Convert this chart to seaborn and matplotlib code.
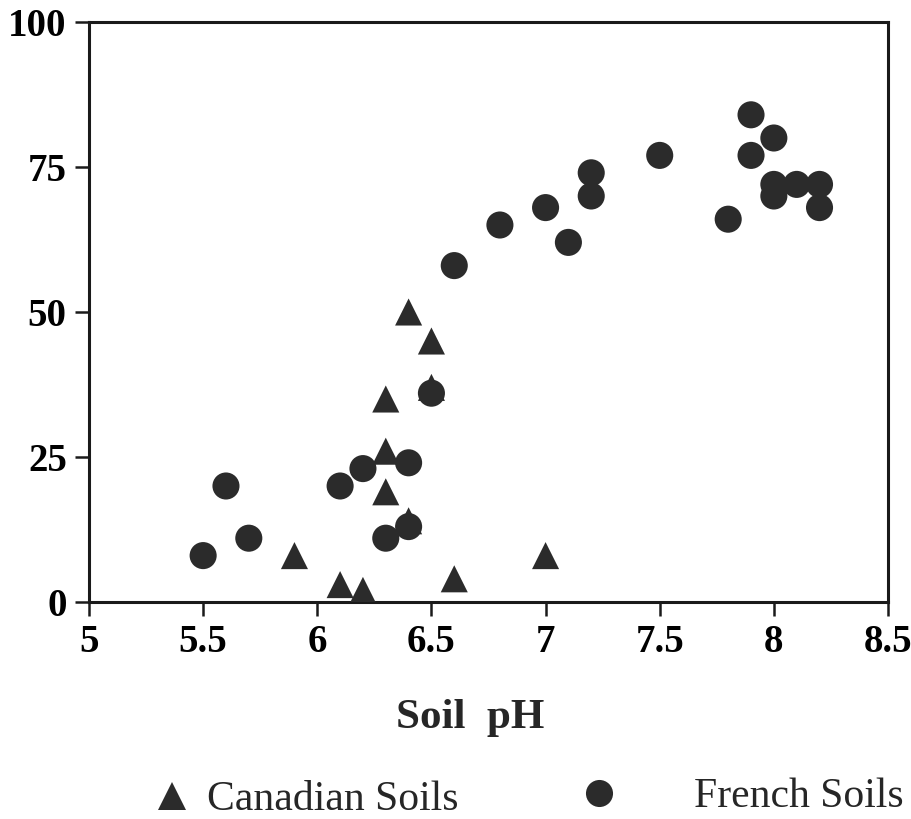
import matplotlib
matplotlib.use("Agg")
import matplotlib.pyplot as plt
import seaborn as sns
import pandas as pd

# Canadian soils (triangles)
canadian_ph = [6.4, 6.5, 6.3, 6.3, 6.3, 5.9, 6.1, 6.2, 6.6, 7.0, 6.5, 6.4]
canadian_val = [50, 45, 35, 26, 19, 8, 3, 2, 4, 8, 37, 14]

# French soils (circles)
french_ph = [5.5, 5.6, 5.7, 6.1, 6.2, 6.3, 6.4, 6.4, 6.5, 6.6, 6.8, 7.0, 7.1,
             7.2, 7.2, 7.5, 7.8, 7.9, 7.9, 8.0, 8.0, 8.0, 8.1, 8.2, 8.2]
french_val = [8, 20, 11, 20, 23, 11, 24, 13, 36, 58, 65, 68, 62,
              74, 70, 77, 66, 84, 77, 80, 72, 70, 72, 72, 68]

x_ticks = [5, 5.5, 6, 6.5, 7, 7.5, 8, 8.5]
x_tick_labels = ["5", "5.5", "6", "6.5", "7", "7.5", "8", "8.5"]
y_ticks = [0, 25, 50, 75, 100]

df = pd.DataFrame({
    "pH": canadian_ph + french_ph,
    "value": canadian_val + french_val,
    "soil": ["Canadian Soils"] * len(canadian_ph) + ["French Soils"] * len(french_ph),
})

sns.set_theme(style="white")
plt.rcParams["font.family"] = ["Liberation Serif", "DejaVu Serif"]

ink = "#2b2b2b"
fig = plt.figure(figsize=(9.11, 8.19), dpi=100)
ax = fig.add_axes([89 / 911, 1 - 602 / 819, (888 - 89) / 911, (602 - 22) / 819])

sns.scatterplot(
    data=df, x="pH", y="value", style="soil", hue="soil",
    palette={"Canadian Soils": ink, "French Soils": ink},
    markers={"Canadian Soils": "^", "French Soils": "o"},
    s=380, edgecolor="none", linewidth=0, ax=ax, legend=True, zorder=3,
)

ax.set_xlim(5, 8.5)
ax.set_ylim(0, 100)
ax.set_xticks(x_ticks)
ax.set_xticklabels(x_tick_labels)
ax.set_yticks(y_ticks)
ax.set_ylabel("")
ax.set_xlabel("Soil  pH", fontsize=31, fontweight="bold", va="center")
ax.xaxis.set_label_coords((470 - 89) / 799, (602 - 718) / 580)

for side in ["left", "bottom", "top", "right"]:
    ax.spines[side].set_visible(True)
    ax.spines[side].set_color("#1a1a1a")
    ax.spines[side].set_linewidth(2.2)

ax.tick_params(axis="both", which="major", direction="out", length=10, width=1.8,
               color="#1a1a1a", labelsize=28, pad=6,
               bottom=True, left=True, top=False, right=False)
for lab in ax.get_xticklabels() + ax.get_yticklabels():
    lab.set_fontweight("bold")
    lab.set_color("black")

# legend split into two entries placed under the axis title
handles = ax.get_legend().legend_handles
labels = [t.get_text() for t in ax.get_legend().get_texts()]
ax.get_legend().remove()

leg1 = fig.legend([handles[0]], [labels[0]], loc="center left",
                  bbox_to_anchor=(130 / 911, 1 - 800 / 819), frameon=False,
                  fontsize=30, handletextpad=-0.15, markerscale=1.0,
                  borderpad=0, borderaxespad=0)
leg2 = fig.legend([handles[1]], [labels[1]], loc="center left",
                  bbox_to_anchor=(557 / 911, 1 - 797 / 819), frameon=False,
                  fontsize=30, handletextpad=1.3, markerscale=1.0,
                  borderpad=0, borderaxespad=0)
for h in leg1.legend_handles + leg2.legend_handles:
    h.set_color(ink)

fig.savefig("out.png", dpi=100, facecolor="white")
